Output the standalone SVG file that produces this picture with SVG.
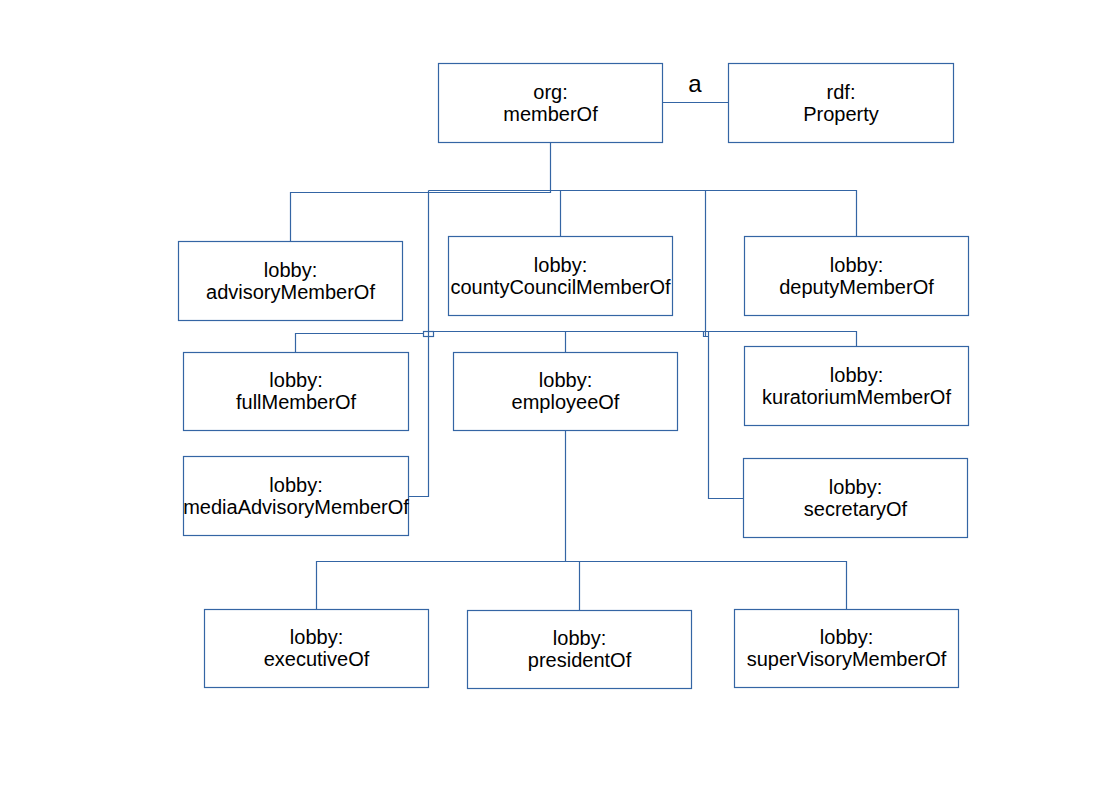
<svg xmlns="http://www.w3.org/2000/svg" width="1111" height="785" viewBox="0 0 1111 785">
<style>
.box{fill:#ffffff;stroke:#3465a4;stroke-width:1.2}
.lbl{font-family:"Liberation Sans",Arial,sans-serif;font-size:20px;fill:#000000;text-anchor:middle}
.big{font-size:24px}
.con{fill:none;stroke:#3465a4;stroke-width:1.2}
</style>
<rect width="1111" height="785" fill="#ffffff"/>
<g id="connectors">
<path class="con" d="M662.5,102.5 H728.5"/>
<path class="con" d="M550.5,142.5 V192.5 H290.5 V241.5"/>
<path class="con" d="M428.5,190.5 H856.5 V236.5"/>
<path class="con" d="M560.5,190.5 V236.5"/>
<path class="con" d="M428.5,190.5 V496.5 H408.5"/>
<path class="con" d="M705.5,190.5 V336"/>
<path class="con" d="M295.5,352.5 V333.5 H423.5"/>
<rect class="con" x="423.5" y="331.5" width="10" height="5"/>
<path class="con" d="M428.5,331.5 H856.5 V346.5"/>
<path class="con" d="M565.5,331.5 V352.5"/>
<path class="con" d="M703.5,331.5 V336.5 H708.5"/>
<path class="con" d="M708.5,331.5 V498.5 H743.5"/>
<path class="con" d="M565.5,430.5 V561.5"/>
<path class="con" d="M316.5,609.5 V561.5 H846.5 V609.5"/>
<path class="con" d="M579.5,561.5 V610.5"/>
</g>
<g id="n_a">
<text class="lbl big" x="695" y="92">a</text>
</g>
<g id="n_org_memberOf">
<rect class="box" x="438.5" y="63.5" width="224" height="79"/>
<text class="lbl" x="550.5"><tspan x="550.5" y="98.5">org:</tspan><tspan x="550.5" y="120.5">memberOf</tspan></text>
</g>
<g id="n_rdf_Property">
<rect class="box" x="728.5" y="63.5" width="225" height="79"/>
<text class="lbl" x="841"><tspan x="841" y="98.5">rdf:</tspan><tspan x="841" y="120.5">Property</tspan></text>
</g>
<g id="n_advisory">
<rect class="box" x="178.5" y="241.5" width="224" height="79"/>
<text class="lbl"><tspan x="290.5" y="276.5">lobby:</tspan><tspan x="290.5" y="298.5">advisoryMemberOf</tspan></text>
</g>
<g id="n_countyCouncil">
<rect class="box" x="448.5" y="236.5" width="224" height="79"/>
<text class="lbl"><tspan x="560.5" y="271.5">lobby:</tspan><tspan x="560.5" y="293.5">countyCouncilMemberOf</tspan></text>
</g>
<g id="n_deputy">
<rect class="box" x="744.5" y="236.5" width="224" height="79"/>
<text class="lbl"><tspan x="856.5" y="271.5">lobby:</tspan><tspan x="856.5" y="293.5">deputyMemberOf</tspan></text>
</g>
<g id="n_fullMember">
<rect class="box" x="183.5" y="352.5" width="225" height="78"/>
<text class="lbl"><tspan x="296" y="387">lobby:</tspan><tspan x="296" y="409">fullMemberOf</tspan></text>
</g>
<g id="n_employee">
<rect class="box" x="453.5" y="352.5" width="224" height="78"/>
<text class="lbl"><tspan x="565.5" y="387">lobby:</tspan><tspan x="565.5" y="409">employeeOf</tspan></text>
</g>
<g id="n_kuratorium">
<rect class="box" x="744.5" y="346.5" width="224" height="79"/>
<text class="lbl"><tspan x="856.5" y="381.5">lobby:</tspan><tspan x="856.5" y="403.5">kuratoriumMemberOf</tspan></text>
</g>
<g id="n_mediaAdvisory">
<rect class="box" x="183.5" y="456.5" width="225" height="79"/>
<text class="lbl"><tspan x="296" y="491.5">lobby:</tspan><tspan x="296" y="513.5">mediaAdvisoryMemberOf</tspan></text>
</g>
<g id="n_secretary">
<rect class="box" x="743.5" y="458.5" width="224" height="79"/>
<text class="lbl"><tspan x="855.5" y="493.5">lobby:</tspan><tspan x="855.5" y="515.5">secretaryOf</tspan></text>
</g>
<g id="n_executive">
<rect class="box" x="204.5" y="609.5" width="224" height="78"/>
<text class="lbl"><tspan x="316.5" y="644">lobby:</tspan><tspan x="316.5" y="666">executiveOf</tspan></text>
</g>
<g id="n_president">
<rect class="box" x="467.5" y="610.5" width="224" height="78"/>
<text class="lbl"><tspan x="579.5" y="645">lobby:</tspan><tspan x="579.5" y="667">presidentOf</tspan></text>
</g>
<g id="n_superVisory">
<rect class="box" x="734.5" y="609.5" width="224" height="78"/>
<text class="lbl"><tspan x="846.5" y="644">lobby:</tspan><tspan x="846.5" y="666">superVisoryMemberOf</tspan></text>
</g>
</svg>
